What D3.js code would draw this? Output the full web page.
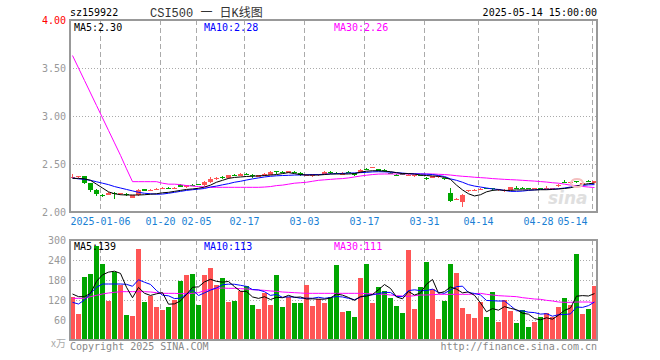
<!DOCTYPE html>
<html>
<head>
<meta charset="utf-8">
<script src="https://cdn.jsdelivr.net/npm/d3@7"></script>
<style>
body { margin: 0; background: #fff; }
svg { display: block; font-family: "DejaVu Sans Mono", monospace; }
</style>
</head>
<body>
<svg id="chart" width="660" height="360"></svg>
<script>
// trading days shown (2024-12-27 .. 2025-05-14)
const dates = ["12-27","12-30","12-31","01-02","01-03","01-06","01-07","01-08","01-09","01-10",
  "01-13","01-14","01-15","01-16","01-17","01-20","01-21","01-22","01-23","01-24",
  "01-27","02-05","02-06","02-07","02-10","02-11","02-12","02-13","02-14","02-17",
  "02-18","02-19","02-20","02-21","02-24","02-25","02-26","02-27","02-28","03-03",
  "03-04","03-05","03-06","03-07","03-10","03-11","03-12","03-13","03-14","03-17",
  "03-18","03-19","03-20","03-21","03-24","03-25","03-26","03-27","03-28","03-31",
  "04-01","04-02","04-03","04-07","04-08","04-09","04-10","04-11","04-14","04-15",
  "04-16","04-17","04-18","04-21","04-22","04-23","04-24","04-25","04-28","04-29",
  "04-30","05-06","05-07","05-08","05-09","05-12","05-13","05-14"];

const open = [2.355,2.36,2.37,2.30,2.23,2.18,2.18,2.20,2.185,2.19,
  2.15,2.175,2.235,2.22,2.23,2.24,2.255,2.25,2.285,2.26,
  2.285,2.29,2.28,2.31,2.345,2.365,2.35,2.39,2.38,2.40,
  2.39,2.365,2.385,2.39,2.425,2.42,2.41,2.42,2.41,2.385,
  2.37,2.385,2.40,2.42,2.41,2.39,2.42,2.405,2.41,2.45,
  2.46,2.445,2.44,2.41,2.39,2.40,2.385,2.37,2.385,2.355,
  2.355,2.36,2.35,2.20,2.125,2.10,2.215,2.22,2.235,2.245,
  2.245,2.225,2.215,2.23,2.255,2.255,2.25,2.245,2.25,2.245,
  2.245,2.27,2.315,2.30,2.32,2.30,2.325,2.305];
const high = [2.40,2.375,2.375,2.30,2.235,2.185,2.205,2.21,2.20,2.195,
  2.18,2.235,2.24,2.24,2.25,2.26,2.26,2.265,2.29,2.285,
  2.29,2.295,2.32,2.36,2.365,2.37,2.39,2.395,2.405,2.41,
  2.395,2.39,2.41,2.425,2.43,2.425,2.43,2.425,2.415,2.40,
  2.40,2.40,2.425,2.425,2.42,2.415,2.425,2.41,2.445,2.455,
  2.47,2.45,2.445,2.415,2.40,2.405,2.395,2.39,2.39,2.36,
  2.375,2.375,2.355,2.25,2.145,2.185,2.23,2.235,2.25,2.25,
  2.245,2.24,2.235,2.265,2.27,2.26,2.255,2.255,2.255,2.27,
  2.255,2.29,2.33,2.315,2.325,2.31,2.33,2.325];
const low = [2.35,2.355,2.295,2.21,2.17,2.16,2.175,2.14,2.18,2.165,
  2.145,2.17,2.215,2.215,2.225,2.235,2.24,2.245,2.26,2.255,
  2.275,2.28,2.275,2.305,2.335,2.345,2.345,2.375,2.375,2.39,
  2.355,2.36,2.38,2.385,2.40,2.405,2.405,2.405,2.375,2.375,
  2.365,2.38,2.395,2.40,2.395,2.385,2.405,2.38,2.405,2.435,
  2.455,2.425,2.42,2.395,2.37,2.385,2.37,2.365,2.37,2.335,
  2.35,2.355,2.33,2.105,2.12,2.05,2.21,2.215,2.23,2.235,
  2.215,2.22,2.21,2.225,2.245,2.245,2.235,2.24,2.24,2.24,
  2.24,2.265,2.305,2.295,2.305,2.295,2.31,2.30];
const close = [2.365,2.37,2.30,2.23,2.185,2.175,2.20,2.19,2.195,2.175,
  2.175,2.23,2.22,2.23,2.24,2.25,2.25,2.255,2.265,2.28,
  2.28,2.285,2.315,2.345,2.355,2.36,2.385,2.385,2.40,2.395,
  2.37,2.385,2.40,2.42,2.415,2.415,2.425,2.415,2.385,2.39,
  2.395,2.395,2.42,2.41,2.405,2.41,2.41,2.39,2.44,2.445,
  2.465,2.43,2.43,2.40,2.385,2.39,2.39,2.385,2.375,2.35,
  2.37,2.37,2.345,2.11,2.135,2.18,2.225,2.23,2.24,2.24,
  2.24,2.235,2.23,2.26,2.25,2.25,2.245,2.25,2.245,2.25,
  2.25,2.285,2.31,2.31,2.31,2.305,2.315,2.32];

const ma5 = [2.35,2.35,2.345,2.33,2.29,2.25,2.21,2.19,2.18,2.177,
  2.177,2.177,2.18,2.185,2.19,2.20,2.205,2.215,2.225,2.235,
  2.24,2.247,2.26,2.28,2.31,2.33,2.35,2.36,2.365,2.37,
  2.373,2.376,2.38,2.385,2.39,2.40,2.41,2.40,2.39,2.385,
  2.385,2.385,2.39,2.396,2.396,2.396,2.396,2.40,2.415,2.425,
  2.43,2.43,2.425,2.42,2.41,2.40,2.40,2.395,2.385,2.38,
  2.375,2.372,2.36,2.34,2.28,2.23,2.19,2.167,2.18,2.21,
  2.225,2.23,2.225,2.225,2.23,2.23,2.23,2.23,2.232,2.232,
  2.235,2.24,2.245,2.253,2.27,2.285,2.295,2.30];
const ma10 = [2.355,2.345,2.34,2.33,2.315,2.30,2.285,2.265,2.25,2.235,
  2.22,2.205,2.195,2.19,2.185,2.187,2.195,2.205,2.215,2.225,
  2.232,2.238,2.245,2.26,2.27,2.283,2.295,2.31,2.32,2.333,
  2.345,2.355,2.365,2.372,2.377,2.38,2.382,2.385,2.386,2.388,
  2.39,2.39,2.393,2.396,2.40,2.402,2.405,2.407,2.41,2.413,
  2.418,2.42,2.418,2.415,2.41,2.405,2.40,2.398,2.396,2.394,
  2.39,2.38,2.37,2.345,2.33,2.31,2.285,2.27,2.26,2.25,
  2.24,2.235,2.225,2.215,2.215,2.218,2.225,2.23,2.235,2.237,
  2.238,2.242,2.25,2.26,2.268,2.277,2.283,2.285];
const ma30 = [3.63,3.50,3.37,3.24,3.11,2.98,2.85,2.72,2.59,2.45,
  2.316,2.316,2.316,2.316,2.316,2.30,2.29,2.29,2.285,2.275,
  2.27,2.265,2.26,2.257,2.257,2.257,2.257,2.257,2.257,2.257,
  2.257,2.257,2.26,2.265,2.275,2.28,2.29,2.30,2.305,2.31,
  2.32,2.33,2.335,2.34,2.345,2.348,2.355,2.365,2.375,2.383,
  2.39,2.395,2.396,2.396,2.396,2.396,2.396,2.396,2.396,2.396,
  2.396,2.393,2.39,2.385,2.378,2.372,2.368,2.362,2.358,2.354,
  2.348,2.344,2.34,2.337,2.334,2.33,2.326,2.322,2.317,2.312,
  2.305,2.30,2.29,2.28,2.274,2.266,2.26,2.255];

// volume in 万手
const volume = [130,78,189,199,283,229,118,203,166,75,
  72,273,115,133,100,90,99,120,178,195,
  199,105,195,216,165,187,115,117,147,162,
  105,93,142,105,195,99,129,111,111,165,
  102,123,111,129,225,85,88,69,186,229,
  111,159,147,127,103,81,270,93,159,234,
  152,63,118,228,202,96,78,66,114,69,
  144,54,120,87,51,90,39,54,69,81,
  69,99,126,105,258,78,93,162];
const volMa5 = [138,130,130,140,175.8,195.6,203.6,206.4,199.8,158.2,
  126.8,157.8,140.2,133.6,138.6,142.2,107.4,108.4,117.4,136.4,
  158.2,159.4,174.4,182,176,173.6,175.6,160,146.2,145.6,
  129.2,124.8,129.8,121.4,128,126.8,134,127.8,129,123,
  123.6,122.4,122.4,126,138,134.6,127.6,119.2,130.6,131.4,
  136.6,150.8,166.4,154.6,129.4,123.4,145.6,134.8,141.2,167.4,
  181.6,140.2,145.2,159,152.6,141.4,144.4,134,111.2,84.6,
  94.2,89.4,100.2,94.8,91.2,80.4,77.4,64.2,60.6,66.6,
  62.4,74.4,88.8,96,131.4,133.2,132,139.2];
const volMa10 = [113,108,120,140,158,168,168,168,168,167,
  161.2,180.7,173.3,166.7,148.4,134.5,132.6,124.3,125.5,137.5,
  150.2,133.4,141.4,149.7,156.2,165.9,167.5,167.2,164.1,160.8,
  151.4,150.2,144.9,133.8,136.8,128,129.4,128.8,125.2,125.5,
  125.2,128.2,125.1,127.5,130.5,129.1,125,120.8,128.3,134.7,
  135.6,139.2,142.8,142.6,130.4,130,148.2,150.6,147.9,148.4,
  152.5,142.9,140,150.1,160,161.5,142.3,139.6,135.1,118.6,
  117.8,116.9,117.1,103,87.9,87.3,83.4,82.2,77.7,78.9,
  71.4,75.9,76.5,78.3,99,97.8,103.2,114];
const volMa30 = [125,125,125,130,134,138,141,143,145,145,
  145,145,145,144,142,140,140,140,139,139,
  140,142,148,152,155,156,155,155,154,153,
  151,150,149,147,146,144,143,142,141,140,
  140,140,140,140,140,140,140,140,140,139,
  138,138,137,135,133,132,131,133,135,135,
  136,137,137,137,137,137,137,138,140,137,
  135,133,132,131,130,127,125,123,122,119,
  117,114,113,113,114,114,114,112];

const priceTicks = [2.0, 2.5, 3.0, 3.5, 4.0];
const volTicks = [60, 120, 180, 240, 300];
const dateTicks = [["2025-01-06","01-06"],["01-20","01-20"],["02-05","02-05"],["02-17","02-17"],
  ["03-03","03-03"],["03-17","03-17"],["03-31","03-31"],["04-14","04-14"],["04-28","04-28"],["05-14","05-14"]];

const upColor = "#ff5555", downColor = "#00a600";
const gridColor = "#aaaaaa", frameColor = "#999999";

const svg = d3.select("#chart");
const left = 70, right = 597;
const priceTop = 20, priceBottom = 212;
const volTop = 240, volBottom = 340;
const n = dates.length;

const x = d3.scaleLinear().domain([0, n]).range([left, left + 6 * n]);
const barW = 5;
const y = d3.scaleLinear().domain([2, 4]).range([priceBottom, priceTop]);
const yv = d3.scaleLinear().domain([0, 300]).range([volBottom, volTop]);

const isUp = i => close[i] >= open[i];

// header
svg.append("text").attr("x", 70).attr("y", 16).attr("font-size", 10).attr("fill", "#000").text("sz159922");
svg.append("text").attr("x", 150).attr("y", 17)
  .attr("font-family", "'Liberation Mono','Noto Sans CJK SC',monospace")
  .attr("font-size", 12).attr("fill", "#333").text("CSI500 一 日K线图");
svg.append("text").attr("x", 597).attr("y", 16).attr("font-size", 10)
  .attr("text-anchor", "end").attr("fill", "#000").text("2025-05-14 15:00:00");

// gridlines
function drawGrid(top, bottom, yScale, ticks) {
  const g = svg.append("g").attr("shape-rendering", "crispEdges");
  g.selectAll("line.h").data(ticks).enter().append("line")
    .attr("x1", left).attr("x2", right)
    .attr("y1", d => Math.round(yScale(d)) + 0.5).attr("y2", d => Math.round(yScale(d)) + 0.5)
    .attr("stroke", gridColor).attr("stroke-dasharray", "1,2");
  g.selectAll("line.v").data(dateTicks).enter().append("line")
    .attr("x1", d => x(dates.indexOf(d[1])) + 0.5).attr("x2", d => x(dates.indexOf(d[1])) + 0.5)
    .attr("y1", top).attr("y2", bottom)
    .attr("stroke", gridColor).attr("stroke-dasharray", "5,3");
}
drawGrid(priceTop, priceBottom, y, [2.5, 3.0, 3.5]);
drawGrid(volTop, volBottom, yv, [60, 120, 180, 240]);

// candles
const candles = svg.append("g").attr("shape-rendering", "crispEdges")
  .selectAll("g").data(d3.range(n)).enter().append("g");
candles.append("line")
  .attr("x1", i => x(i) + 2.5).attr("x2", i => x(i) + 2.5)
  .attr("y1", i => y(high[i])).attr("y2", i => y(low[i]))
  .attr("stroke", i => isUp(i) ? upColor : downColor);
candles.append("rect")
  .attr("x", i => x(i)).attr("width", barW)
  .attr("y", i => y(Math.max(open[i], close[i])))
  .attr("height", i => Math.max(1, Math.abs(y(open[i]) - y(close[i]))))
  .attr("fill", i => isUp(i) ? upColor : downColor);

// volume bars
svg.append("g").attr("shape-rendering", "crispEdges")
  .selectAll("rect").data(d3.range(n)).enter().append("rect")
  .attr("x", i => x(i)).attr("width", barW)
  .attr("y", i => yv(volume[i]))
  .attr("height", i => yv(0) - yv(volume[i]))
  .attr("fill", i => isUp(i) ? upColor : downColor);

// moving average lines
function maLine(values, yScale, color) {
  const line = d3.line().x((d, i) => x(i) + 2.5).y(d => yScale(d));
  svg.append("path").datum(values).attr("d", line)
    .attr("fill", "none").attr("stroke", color).attr("stroke-width", 1);
}
maLine(ma30, y, "#ff00ff");
maLine(ma10, y, "#0000ff");
maLine(ma5, y, "#000000");
maLine(volMa30, yv, "#ff00ff");
maLine(volMa10, yv, "#0000ff");
maLine(volMa5, yv, "#000000");

// frames
const frame = svg.append("g").attr("fill", "none").attr("stroke", frameColor)
  .attr("shape-rendering", "crispEdges");
[[priceTop, priceBottom], [volTop, volBottom]].forEach(p => {
  frame.append("path").attr("stroke-width", 2)
    .attr("d", `M${left},${p[0]}H${right}V${p[1]}H${left}Z`);
});

// axes
const yAxis = svg.append("g").attr("transform", `translate(${left},0)`)
  .call(d3.axisLeft(y).tickValues(priceTicks).tickFormat(d3.format(".2f")).tickSize(0).tickPadding(4));
yAxis.select(".domain").remove();
yAxis.selectAll("text").attr("font-family", "'DejaVu Sans Mono',monospace").attr("font-size", 10)
  .attr("fill", d => d === 4.0 ? "#ff0000" : "#999");

const vAxis = svg.append("g").attr("transform", `translate(${left},0)`)
  .call(d3.axisLeft(yv).tickValues(volTicks).tickSize(0).tickPadding(4));
vAxis.select(".domain").remove();
vAxis.selectAll("text").attr("font-family", "'DejaVu Sans Mono',monospace").attr("font-size", 10)
  .attr("fill", "#999");
svg.append("text").attr("x", 66).attr("y", 347).attr("text-anchor", "end")
  .attr("font-family", "'Noto Sans CJK SC',sans-serif").attr("font-size", 10).attr("fill", "#aaa").text("x万");

const xAxis = svg.append("g").attr("transform", `translate(0,${priceBottom})`)
  .call(d3.axisBottom(x).tickValues(dateTicks.map(d => dates.indexOf(d[1])))
    .tickFormat(i => dateTicks.find(d => d[1] === dates[i])[0]).tickSize(0).tickPadding(6));
xAxis.select(".domain").remove();
xAxis.selectAll("text").attr("font-family", "'DejaVu Sans Mono',monospace").attr("font-size", 10)
  .attr("fill", "#1a7fd4")
  .attr("text-anchor", i => i === n - 1 ? "end" : "middle")
  .attr("dx", i => i === n - 1 ? -5 : 0);

// legends
function legend(yPos, items) {
  svg.append("g").selectAll("text").data(items).enter().append("text")
    .attr("x", d => d[0]).attr("y", yPos).attr("font-size", 10)
    .attr("fill", d => d[2]).text(d => d[1]);
}
legend(31, [[74, "MA5:2.30", "#000"], [204, "MA10:2.28", "#0000ff"], [334, "MA30:2.26", "#ff00ff"]]);
legend(250, [[74, "MA5:139", "#000"], [204, "MA10:113", "#0000ff"], [334, "MA30:111", "#ff00ff"]]);

// footer & watermark
svg.append("text").attr("x", 70).attr("y", 350).attr("font-size", 10).attr("fill", "#888")
  .text("Copyright 2025 SINA.COM");
svg.append("text").attr("x", 597).attr("y", 350).attr("font-size", 10).attr("fill", "#888")
  .attr("text-anchor", "end").text("http://finance.sina.com.cn");
svg.append("text").attr("x", 548).attr("y", 204).attr("font-family", "'DejaVu Sans',sans-serif")
  .attr("font-size", 17).attr("font-weight", "bold").attr("font-style", "italic")
  .attr("fill", "#d8d8d8").attr("opacity", 0.8).text("sina");
svg.append("ellipse").attr("cx", 577).attr("cy", 183).attr("rx", 6).attr("ry", 4)
  .attr("fill", "none").attr("stroke", "#f4c0c0").attr("stroke-width", 2);
</script>
</body>
</html>
